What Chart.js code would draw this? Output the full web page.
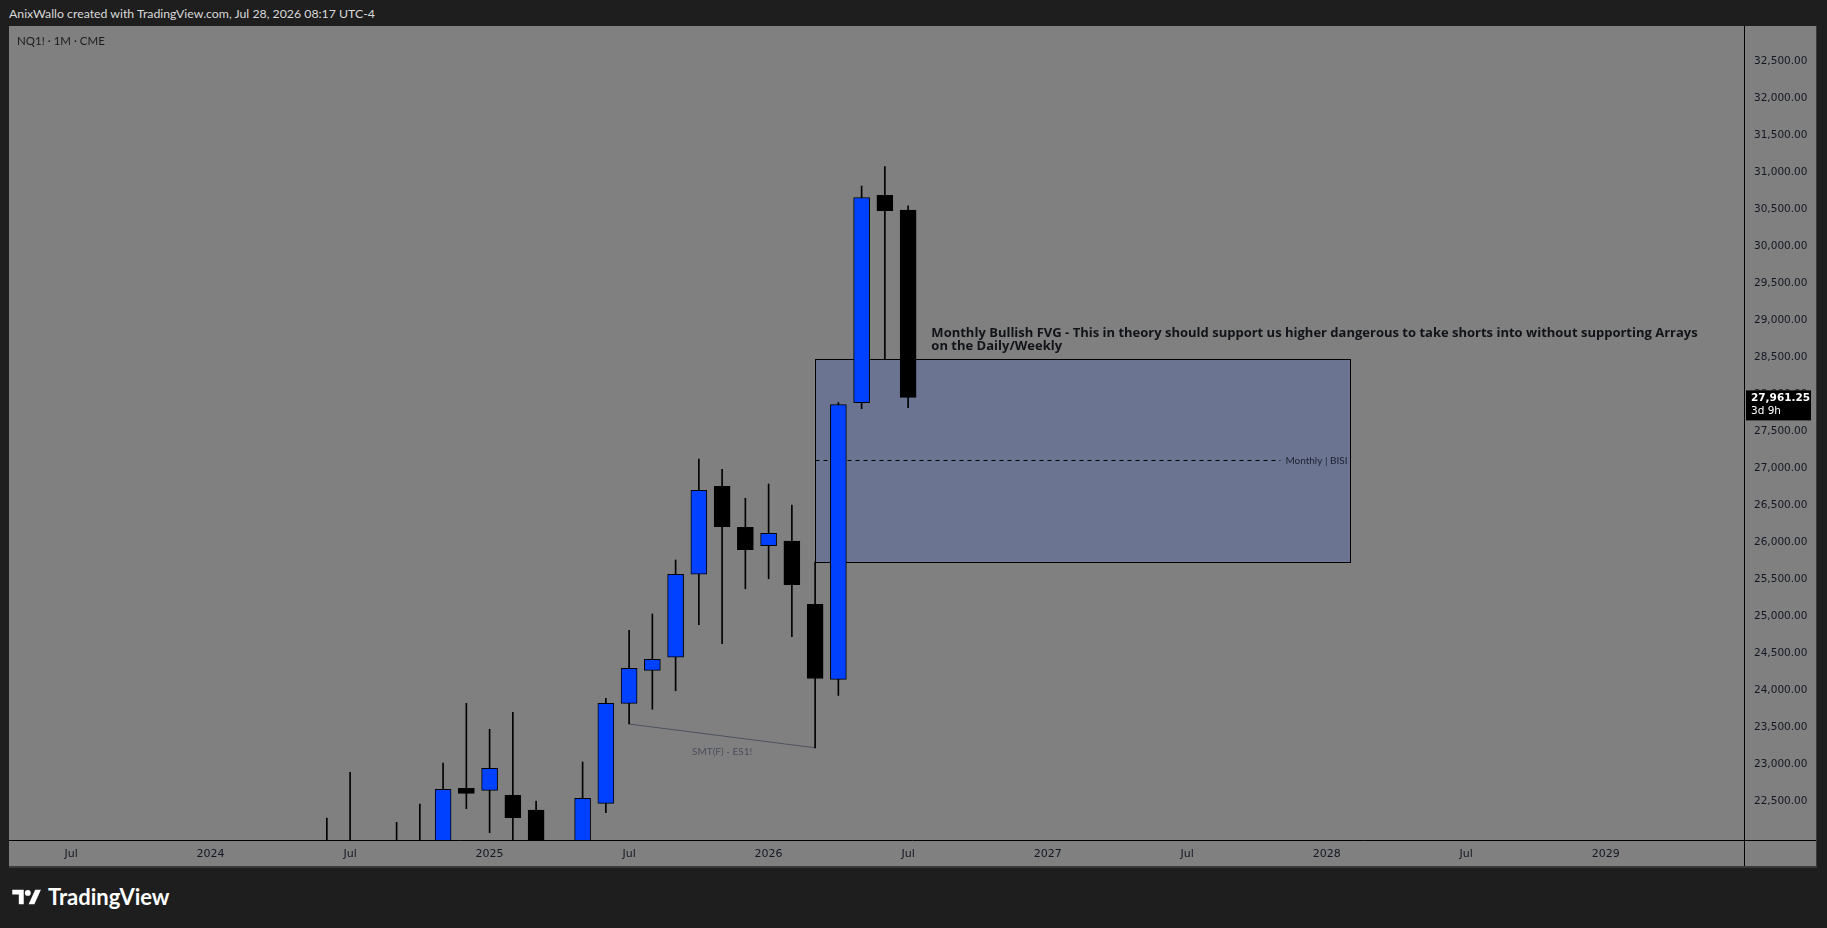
<!DOCTYPE html>
<html lang="en">
<head>
  <meta charset="UTF-8">
  <title>NQ1! 1M CME - TradingView</title>
  <script src="https://cdn.jsdelivr.net/npm/chart.js"></script>
  <style>
    html, body {
      margin: 0;
      padding: 0;
      width: 1827px;
      height: 928px;
      overflow: hidden;
      background: #1e1e1e;
    }
    #header {
      position: absolute;
      left: 9px;
      top: 6px;
      color: #d9d9d9;
      font: 12.3px Lato, sans-serif;
    }
    #frame {
      position: absolute;
      left: 9px;
      top: 26px;
      width: 1807px;
      height: 840px;
      background: #808080;
      border-bottom: 2px solid #3a3a3a;
      border-right: 1px solid #3a3a3a;
    }
    #wrap {
      position: absolute;
      left: 9px;
      top: 26px;
      width: 1807px;
      height: 840px;
    }
    #symbol {
      position: absolute;
      left: 17px;
      top: 34px;
      color: #1c1c1c;
      font: 11.5px Lato, sans-serif;
    }
    #logo {
      position: absolute;
      left: 12px;
      top: 883px;
      display: flex;
      align-items: center;
      color: #ffffff;
      font: bold 22px Lato, sans-serif;
    }
    #logo svg {
      margin-right: 6px;
    }
  </style>
</head>
<body>
  <div id="header">AnixWallo created with TradingView.com, Jul 28, 2026 08:17 UTC-4</div>
  <div id="frame"></div>
  <div id="wrap"><canvas id="chart"></canvas></div>
  <div id="symbol">NQ1! · 1M · CME</div>
  <div id="logo">
    <svg width="30" height="18" viewBox="0 0 36 22">
      <path d="M0 2h14v18h-6v-12h-8z" fill="#fff"/>
      <circle cx="19" cy="6" r="3.6" fill="#fff"/>
      <path d="M28 2h7l-8 18h-7z" fill="#fff"/>
    </svg>
    <span>TradingView</span>
  </div>

  <script>
    // monthly candles, NQ1! (bodies of the 2024 ones sit below the visible range)
    const months = ['2024-06', '2024-07', '2024-09', '2024-10', '2024-11', '2024-12',
      '2025-01', '2025-02', '2025-03', '2025-05', '2025-06', '2025-07', '2025-08', '2025-09', '2025-10', '2025-11', '2025-12',
      '2026-01', '2026-02', '2026-03', '2026-04', '2026-05', '2026-06', '2026-07'];
    const open = [21600, 21900, 21500, 21600, 21700, 22678,
      22651, 22584, 22385, 21700, 22476, 23827, 24273, 24449, 25571, 26759, 26205,
      25957, 26020, 25165, 24151, 27891, 30693, 30492];
    const high = [22277, 22895, 22219, 22466, 23020, 23827,
      23476, 23705, 22507, 23034, 23895, 24814, 25034, 25764, 27128, 26989, 26597,
      26791, 26507, 25734, 27891, 30817, 31081, 30549];
    const low = [21300, 21400, 21200, 21300, 21500, 22403,
      22078, 21700, 21300, 21500, 22349, 23547, 23746, 23997, 24889, 24632, 25375,
      25510, 24727, 23226, 23935, 27808, 28485, 27823];
    const close = [21800, 21600, 21700, 21750, 22665, 22611,
      22949, 22281, 21600, 22543, 23827, 24300, 24422, 25571, 26705, 26214, 25903,
      26124, 25430, 24162, 27865, 30662, 30486, 27961.25];

    // time axis labels
    const tickMonths = ['2023-07', '2024-01', '2024-07', '2025-01', '2025-07', '2026-01',
      '2026-07', '2027-01', '2027-07', '2028-01', '2028-07', '2029-01'];
    const tickLabels = ['Jul', '2024', 'Jul', '2025', 'Jul', '2026', 'Jul', '2027', 'Jul', '2028', 'Jul', '2029'];

    // price axis labels
    const priceTicks = [22500, 23000, 23500, 24000, 24500, 25000, 25500, 26000, 26500, 27000,
      27500, 28000, 28500, 29000, 29500, 30000, 30500, 31000, 31500, 32000, 32500];

    // drawings
    const fvgFrom = '2026-03', fvgTo = '2028-02';
    const fvgTop = 28485, fvgBottom = 25734;
    const smtFrom = ['2025-07', 23547], smtTo = ['2026-03', 23226];
    const noteAt = ['2026-08', 28830];
    const noteLines = ['Monthly Bullish FVG - This in theory should support us higher dangerous to take shorts into without supporting Arrays',
      'on the Daily/Weekly'];
    const lastPrice = 27961.25;
    const countdown = '3d 9h';

    const viewStart = 3.33, viewEnd = 77.95;
    const priceMin = 21980, priceMax = 32980;

    function mIdx(s) {
      const [y, m] = s.split('-').map(Number);
      return (y - 2023) * 12 + (m - 1);
    }
    function fmt(v) {
      return v.toLocaleString('en-US', { minimumFractionDigits: 2, maximumFractionDigits: 2 });
    }

    const BLUE = '#0041ff';
    const wickData = months.map((m, i) => ({ x: mIdx(m), y: [low[i], high[i]] }));
    const bodyData = months.map((m, i) => ({ x: mIdx(m), y: [open[i], close[i]] }));
    const bodyColors = months.map((m, i) => close[i] >= open[i] ? BLUE : '#000000');

    const drawings = {
      id: 'drawings',
      beforeDatasetsDraw(chart) {
        const { ctx, chartArea: a, scales: { x, y } } = chart;
        ctx.save();
        ctx.beginPath();
        ctx.rect(a.left, a.top, a.right - a.left, a.bottom - a.top);
        ctx.clip();

        // FVG box
        const x0 = Math.round(x.getPixelForValue(mIdx(fvgFrom))) + 0.5;
        const x1 = Math.round(x.getPixelForValue(mIdx(fvgTo))) + 0.5;
        const y0 = Math.round(y.getPixelForValue(fvgTop)) + 0.5;
        const y1 = Math.round(y.getPixelForValue(fvgBottom)) + 0.5;
        ctx.fillStyle = 'rgb(107,116,145)';
        ctx.fillRect(x0, y0, x1 - x0, y1 - y0);
        ctx.strokeStyle = '#000';
        ctx.lineWidth = 1;
        ctx.strokeRect(x0, y0, x1 - x0, y1 - y0);

        // midline + label
        const ym = Math.round(y.getPixelForValue((fvgTop + fvgBottom) / 2)) + 0.5;
        ctx.font = '10px Lato, sans-serif';
        const lbl = 'Monthly | BISI';
        const lw = ctx.measureText(lbl).width;
        ctx.fillStyle = '#1d2130';
        ctx.textAlign = 'right';
        ctx.textBaseline = 'middle';
        ctx.fillText(lbl, x1 - 3, ym);
        ctx.setLineDash([4, 4]);
        ctx.beginPath();
        ctx.moveTo(x0, ym);
        ctx.lineTo(x1 - lw - 8, ym);
        ctx.stroke();
        ctx.setLineDash([]);

        // SMT line
        const sx0 = x.getPixelForValue(mIdx(smtFrom[0])), sy0 = y.getPixelForValue(smtFrom[1]);
        const sx1 = x.getPixelForValue(mIdx(smtTo[0])), sy1 = y.getPixelForValue(smtTo[1]);
        ctx.strokeStyle = '#4e5261';
        ctx.beginPath();
        ctx.moveTo(sx0, sy0);
        ctx.lineTo(sx1, sy1);
        ctx.stroke();
        ctx.fillStyle = '#4a4e5c';
        ctx.textAlign = 'center';
        ctx.fillText('SMT(F) - ES1!', (sx0 + sx1) / 2, (sy0 + sy1) / 2 + 16);
        ctx.restore();
      },
      afterDatasetsDraw(chart) {
        const { ctx, scales: { x, y } } = chart;
        ctx.save();
        ctx.font = 'bold 13px "Open Sans", sans-serif';
        ctx.fillStyle = '#111318';
        ctx.textAlign = 'left';
        ctx.textBaseline = 'middle';
        const nx = x.getPixelForValue(mIdx(noteAt[0])), ny = y.getPixelForValue(noteAt[1]);
        noteLines.forEach((t, i) => ctx.fillText(t, nx, ny + i * 13));
        ctx.restore();
      },
      afterDraw(chart) {
        const { ctx, chartArea: a, scales: { y } } = chart;
        const W = chart.width, H = chart.height;
        ctx.save();
        ctx.strokeStyle = '#000';
        ctx.lineWidth = 1;
        ctx.beginPath();
        ctx.moveTo(0, Math.round(a.bottom) + 0.5);
        ctx.lineTo(W, Math.round(a.bottom) + 0.5);
        ctx.moveTo(Math.round(a.right) + 0.5, 0);
        ctx.lineTo(Math.round(a.right) + 0.5, H);
        ctx.stroke();

        // last price tag
        const py = y.getPixelForValue(lastPrice);
        ctx.fillStyle = '#000';
        ctx.fillRect(a.right + 2, py - 7, 65, 30);
        ctx.fillStyle = '#fff';
        ctx.font = 'bold 10.5px "DejaVu Sans", sans-serif';
        ctx.textAlign = 'left';
        ctx.textBaseline = 'middle';
        ctx.fillText(fmt(lastPrice), a.right + 7, py + 1);
        ctx.font = '10.5px "DejaVu Sans", sans-serif';
        ctx.fillText(countdown, a.right + 7, py + 14);
        ctx.restore();
      }
    };

    new Chart(document.getElementById('chart'), {
      type: 'bar',
      data: {
        datasets: [{
          label: 'wicks',
          data: wickData,
          backgroundColor: '#000',
          borderWidth: 0,
          barThickness: 1,
          grouped: false,
          order: 2
        }, {
          label: 'bodies',
          data: bodyData,
          backgroundColor: bodyColors,
          borderColor: '#000',
          borderWidth: 1,
          borderSkipped: false,
          barThickness: 16,
          grouped: false,
          order: 1
        }]
      },
      options: {
        responsive: true,
        maintainAspectRatio: false,
        animation: false,
        events: [],
        layout: { padding: 0 },
        plugins: {
          legend: { display: false },
          tooltip: { enabled: false }
        },
        scales: {
          x: {
            type: 'linear',
            offset: false,
            min: viewStart,
            max: viewEnd,
            grid: { display: false, drawTicks: false },
            border: { display: false },
            afterBuildTicks: s => { s.ticks = tickMonths.map(m => ({ value: mIdx(m) })); },
            afterFit: s => { s.height = 26; s.paddingLeft = 0; s.paddingRight = 0; },
            ticks: {
              autoSkip: false,
              maxRotation: 0,
              padding: 8,
              color: '#131722',
              font: { family: 'DejaVu Sans', size: 11 },
              callback: (v) => tickLabels[tickMonths.findIndex(m => mIdx(m) === v)]
            }
          },
          y: {
            position: 'right',
            min: priceMin,
            max: priceMax,
            grid: { display: false, drawTicks: false },
            border: { display: false },
            afterBuildTicks: s => { s.ticks = priceTicks.map(v => ({ value: v })); },
            afterFit: s => { s.width = 72; s.paddingTop = 0; s.paddingBottom = 0; },
            ticks: {
              padding: 10,
              color: '#131722',
              font: { family: 'DejaVu Sans', size: 10.5 },
              callback: v => fmt(v)
            }
          }
        }
      },
      plugins: [drawings]
    });
  </script>
</body>
</html>
